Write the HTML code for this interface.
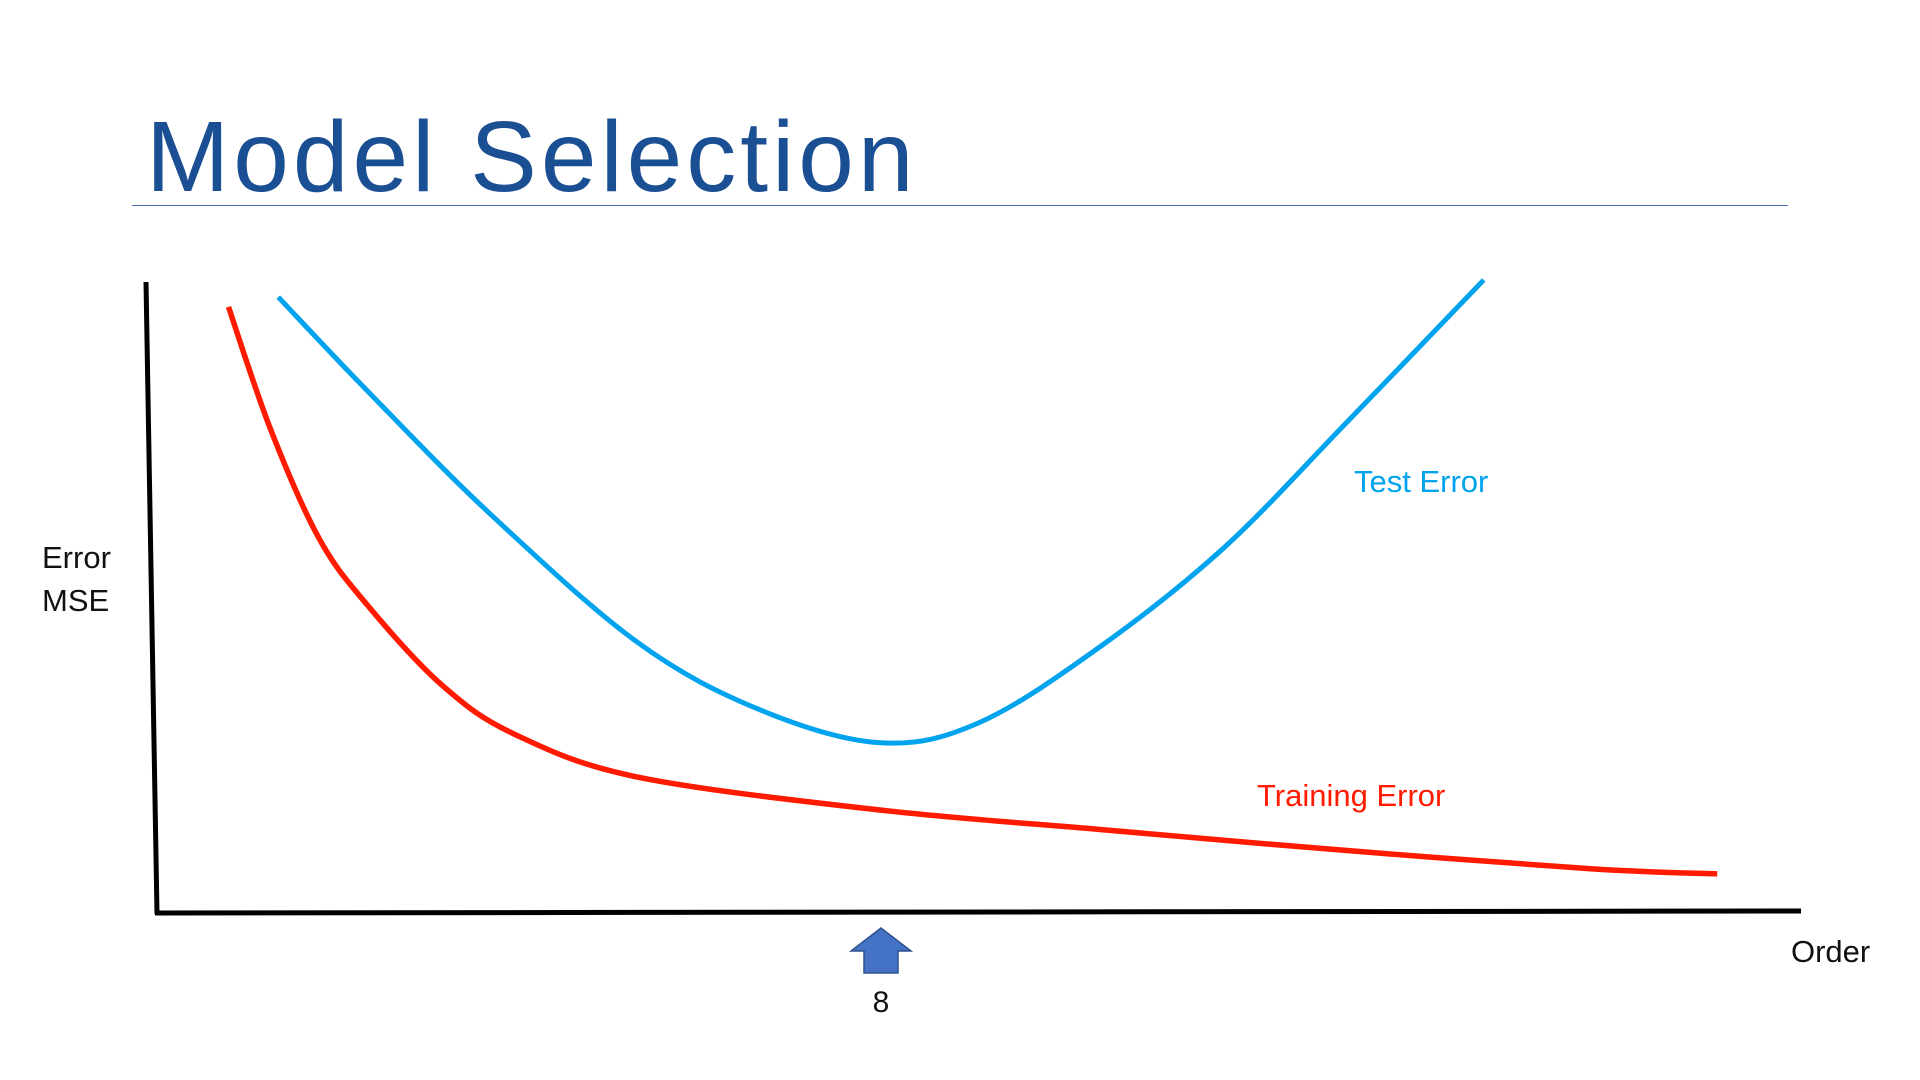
<!DOCTYPE html>
<html><head><meta charset="utf-8"><style>
html,body{margin:0;padding:0;background:#fff;width:1920px;height:1080px;overflow:hidden}
.t{position:absolute;font-family:"Liberation Sans",sans-serif}
</style></head><body>
<div class="t" style="left:146px;top:100px;font-size:100px;color:#1b4f93;letter-spacing:4px">Model Selection</div>
<div style="position:absolute;left:132px;top:205px;width:1656px;height:1px;background:#4a6fb5"></div>
<div class="t" style="left:42px;top:536px;font-size:31px;line-height:43px;color:#111">Error<br>MSE</div>
<div class="t" style="left:1791px;top:934px;font-size:31px;color:#111">Order</div>
<svg id="c" width="1920" height="1080" style="position:absolute;left:0;top:0"></svg>
<script>
const testOrder=[1.34,2.33,3.68,5.31,6.66,8.0,9.1,10.45,11.8,13.15,14.66];
const testErr=[5.03,4.26,3.26,2.21,1.66,1.39,1.56,2.19,2.99,4.01,5.17];
const trainOrder=[0.79,1.25,1.79,2.33,3.15,3.95,5.31,8.0,10.45,13.15,15.86,17.24];
const trainErr=[4.95,3.96,3.06,2.51,1.86,1.46,1.11,0.84,0.68,0.51,0.36,0.32];
const markOrder=[8];
const markLabels=["8"];
const NS="http://www.w3.org/2000/svg";
const svg=document.getElementById('c');
const X=o=>157+o*90.5;
const Y=e=>913-e*122.45;
function path(xs,ys){
 const p=xs.map((x,i)=>[X(x),Y(ys[i])]);
 let d=`M${p[0][0]},${p[0][1]}`;
 for(let i=0;i<p.length-1;i++){
  const p0=p[i-1]||p[i],p1=p[i],p2=p[i+1],p3=p[i+2]||p2;
  d+=` C${p1[0]+(p2[0]-p0[0])/6},${p1[1]+(p2[1]-p0[1])/6} ${p2[0]-(p3[0]-p1[0])/6},${p2[1]-(p3[1]-p1[1])/6} ${p2[0]},${p2[1]}`;
 }
 return d;
}
function add(tag,attrs){const e=document.createElementNS(NS,tag);for(const k in attrs)e.setAttribute(k,attrs[k]);svg.appendChild(e);return e;}
let e;
e=add('line',{x1:146,y1:282,x2:157,y2:914,stroke:'#000','stroke-width':5});


e=add('line',{x1:155,y1:913,x2:1801,y2:911,stroke:'#000','stroke-width':5});


e=add('path',{d:path(testOrder,testErr),fill:'none',stroke:'#00a3ee','stroke-width':5});


e=add('path',{d:path(trainOrder,trainErr),fill:'none',stroke:'#ff1a00','stroke-width':5.5});


markOrder.forEach((o,i)=>{
 const x=X(o);
 const a=add('polygon',{points:`${x},928 ${x+30},951 ${x+17},951 ${x+17},973 ${x-17},973 ${x-17},951 ${x-30},951`,fill:'#4472c4',stroke:'#2f528f','stroke-width':1.5});
 
 
 const t=add('text',{x:x,y:1012,'text-anchor':'middle','font-family':'Liberation Sans, sans-serif','font-size':30,fill:'#111'});
 t.textContent=markLabels[i];
 
 
});
e=add('text',{x:1354,y:492,'font-family':'Liberation Sans, sans-serif','font-size':31,fill:'#00a3ee'});
e.textContent='Test Error';


e=add('text',{x:1257,y:806,'font-family':'Liberation Sans, sans-serif','font-size':31,fill:'#ff1a00'});
e.textContent='Training Error';


</script>
</body></html>
